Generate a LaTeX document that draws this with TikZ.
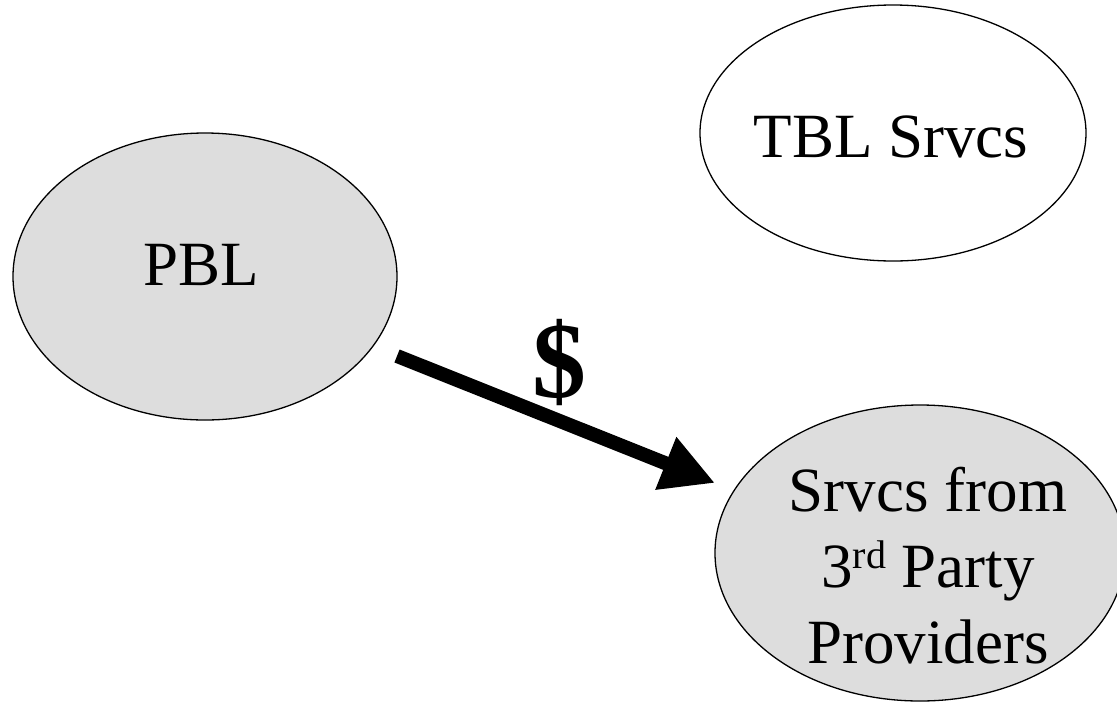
\documentclass[tikz,border=0pt]{standalone}
\usepackage{fontspec}
\setmainfont{Liberation Serif}
\usetikzlibrary{shapes.geometric,arrows.meta}
\definecolor{ovalgray}{RGB}{221,221,221}
\tikzset{
  oval/.style={ellipse, draw=black, line width=1.3pt, inner sep=0pt},
  grayoval/.style={oval, fill=ovalgray},
  whiteoval/.style={oval, fill=white},
  lbl/.style={inner sep=0pt, font=\fontsize{63}{76}\selectfont, align=center},
  money/.style={inner sep=0pt, font=\fontsize{108}{108}\selectfont\bfseries},
  payflow/.style={line width=14pt, -{Triangle[length=53pt,width=53pt]}}
}
\newcommand{\ordsup}[1]{\raisebox{19pt}{\fontsize{40}{40}\selectfont #1}}
\begin{document}
\begin{tikzpicture}[x=1pt,y=-1pt]
  \useasboundingbox[fill=white] (0,0) rectangle (1117,702);

  % the three parties
  \node[grayoval, minimum width=384pt, minimum height=287pt] (PBL) at (205,276.5) {};
  \node[whiteoval, minimum width=386pt, minimum height=256pt] (TBL) at (893,133) {};
  \node[grayoval, minimum width=410pt, minimum height=296pt] (Third) at (920,553) {};

  % their names
  \node[lbl, anchor=base] (PBLname) at (201,285) {PBL};
  \node[lbl, anchor=base] (TBLname) at (891,157) {TBL Srvcs};
  \node[lbl] (Thirdname) at (928,566) {Srvcs from\\3\ordsup{rd} Party\\Providers};

  % money flowing from PBL to the third-party providers
  \coordinate (payTail) at (397,356);
  \coordinate (payTip) at (715,483);
  \draw[payflow] (payTail) -- (payTip);
  \node[money, anchor=base] (dollar) at (559,397) {\$};
\end{tikzpicture}
\end{document}
